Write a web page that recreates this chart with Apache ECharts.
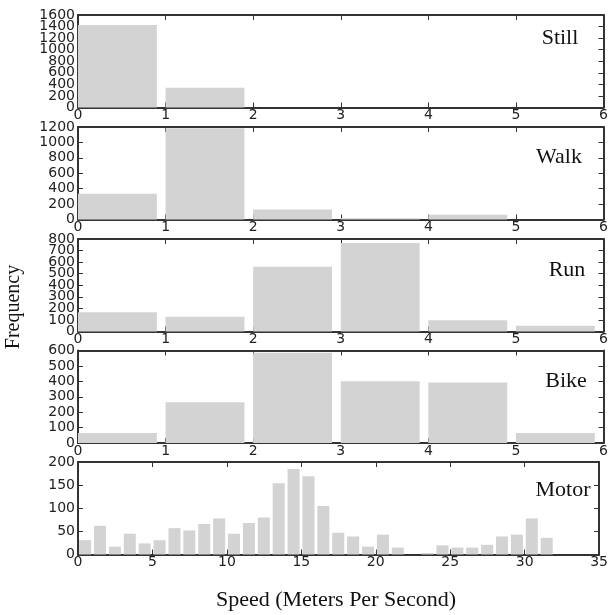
<!DOCTYPE html>
<html>
<head>
<meta charset="utf-8">
<script src="https://cdn.jsdelivr.net/npm/echarts@6/dist/echarts.min.js"></script>
<style>
html,body{margin:0;padding:0;background:#fff;}
#c{width:611px;height:615px;}
</style>
</head>
<body>
<div id="c"></div>
<script>
// ---- data ----
const panelNames = ['Still', 'Walk', 'Run', 'Bike', 'Motor'];
const topBinEdges = [0, 1, 2, 3, 4, 5];
const stillFreq = [1426, 340, 0, 0, 0, 0];
const walkFreq = [335, 1185, 130, 15, 62, 0];
const runFreq = [167, 127, 560, 765, 98, 49];
const bikeFreq = [65, 264, 585, 400, 392, 65];
const motorBinEdges = [0, 1, 2, 3, 4, 5, 6, 7, 8, 9, 10, 11, 12, 13, 14, 15, 16, 17, 18, 19, 20, 21, 22, 23, 24, 25, 26, 27, 28, 29, 30, 31, 32, 33, 34];
const motorFreq = [31, 62, 17, 45, 24, 31, 57, 52, 66, 78, 45, 68, 80, 154, 185, 169, 105, 47, 39, 17, 43, 15, 0, 3, 20, 15, 15, 21, 39, 43, 78, 36, 0, 0, 0];
const yMaxes = [1600, 1200, 800, 600, 200];
const yIntervals = [200, 200, 100, 100, 50];
const xMaxes = [6, 6, 6, 6, 35];
const xIntervals = [1, 1, 1, 1, 5];
const xTitle = 'Speed (Meters Per Second)';
const yTitle = 'Frequency';

// ---- layout / style ----
const gridLeft = 78, gridRight = 7;
const plotW = 611 - gridLeft - gridRight;
const gridTops = [15, 127, 239, 350.5, 462];
const gridH = 92.5;
const labelPos = [[560, 38.5], [559, 157], [567, 270], [566, 381], [563, 490]];
const barColor = '#d3d3d3';
const axisColor = '#333';
const tickFont = { fontFamily: 'DejaVu Sans', fontSize: 14, color: '#222' };

const allFreq = [stillFreq, walkFreq, runFreq, bikeFreq, motorFreq];
const allEdges = [topBinEdges, topBinEdges, topBinEdges, topBinEdges, motorBinEdges];
const barFrac = [0.9, 0.9, 0.9, 0.9, 0.8];
const barOffset = [0.45, 0.45, 0.45, 0.45, 0.48];

const grid = [], xAxis = [], yAxis = [], series = [], graphic = [];
const plain = v => String(v);
for (let i = 0; i < 5; i++) {
  grid.push({ left: gridLeft, right: gridRight, top: gridTops[i], height: gridH, containLabel: false });
  const unitPx = plotW / xMaxes[i];
  const lineStyle = { color: axisColor, width: 2 };
  const tick = { show: true, inside: true, length: 5, lineStyle: { color: axisColor, width: 1 } };
  const step = yIntervals[i];
  xAxis.push({
    type: 'value', gridIndex: i, position: 'bottom', min: 0, max: xMaxes[i], interval: xIntervals[i],
    axisLine: { show: true, onZero: false, lineStyle },
    axisTick: tick,
    axisLabel: Object.assign({ margin: 1, formatter: plain, showMinLabel: true, showMaxLabel: true, hideOverlap: false }, tickFont),
    splitLine: { show: false }
  });
  xAxis.push({
    type: 'value', gridIndex: i, position: 'top', min: 0, max: xMaxes[i], interval: xIntervals[i],
    axisLine: { show: true, onZero: false, lineStyle },
    axisTick: tick,
    axisLabel: { show: false },
    splitLine: { show: false }
  });
  // left axis: ticks + odd-step labels
  yAxis.push({
    type: 'value', gridIndex: i, position: 'left', min: 0, max: yMaxes[i], interval: step,
    axisLine: { show: true, onZero: false, lineStyle },
    axisTick: tick,
    axisLabel: Object.assign({
      margin: 3, hideOverlap: false,
      formatter: v => (Math.round(v / step) % 2 === 1 ? String(v) : '')
    }, tickFont),
    splitLine: { show: false }
  });
  // left axis: even-step labels only
  yAxis.push({
    type: 'value', gridIndex: i, position: 'left', min: 0, max: yMaxes[i], interval: step * 2,
    axisLine: { show: false, onZero: false },
    axisTick: { show: false },
    axisLabel: Object.assign({ margin: 3, formatter: plain, showMinLabel: true, showMaxLabel: true, hideOverlap: false }, tickFont),
    splitLine: { show: false }
  });
  yAxis.push({
    type: 'value', gridIndex: i, position: 'right', min: 0, max: yMaxes[i], interval: step,
    axisLine: { show: true, onZero: false, lineStyle },
    axisTick: tick,
    axisLabel: { show: false },
    splitLine: { show: false }
  });
  const data = allEdges[i].map((e, k) => [e + barOffset[i], allFreq[i][k]]);
  series.push({
    type: 'bar', xAxisIndex: 2 * i, yAxisIndex: 3 * i, data,
    barWidth: barFrac[i] * unitPx,
    itemStyle: { color: barColor },
    silent: true, animation: false, z: 1
  });
  graphic.push({
    type: 'text', x: labelPos[i][0], y: labelPos[i][1], z: 10,
    style: { text: panelNames[i], fontFamily: 'Liberation Serif', fontSize: 22, fill: '#111', align: 'center', verticalAlign: 'middle' }
  });
}
graphic.push({
  type: 'text', x: 336, y: 600,
  style: { text: xTitle, fontFamily: 'Liberation Serif', fontSize: 22, fill: '#111', align: 'center', verticalAlign: 'middle' }
});
graphic.push({
  type: 'text', x: 14, y: 307, rotation: Math.PI / 2,
  style: { text: yTitle, fontFamily: 'Liberation Serif', fontSize: 20, fill: '#111', align: 'center', verticalAlign: 'middle' }
});

const chart = echarts.init(document.getElementById('c'), null, { renderer: 'canvas' });
chart.setOption({ animation: false, backgroundColor: '#fff', grid, xAxis, yAxis, series, graphic });
</script>
</body>
</html>
